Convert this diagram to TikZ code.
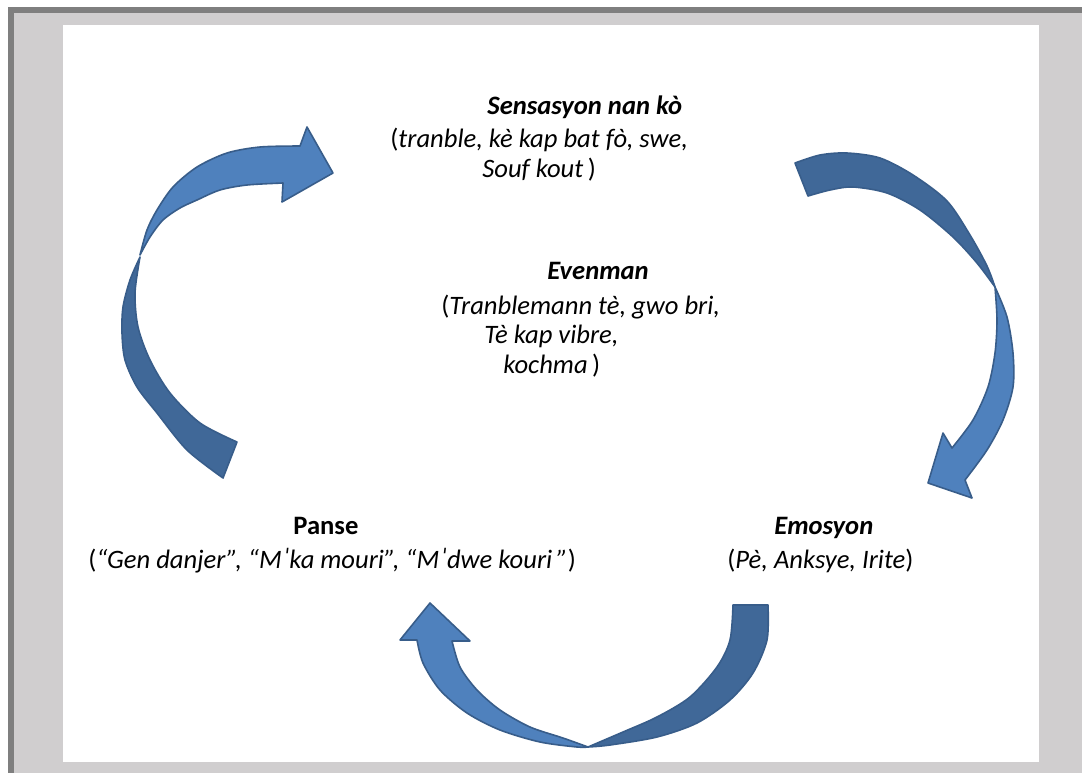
\documentclass[tikz,border=0pt]{standalone}
\usepackage{fontspec}
\setmainfont{Carlito}
\definecolor{rahmengrau}{HTML}{7F7F7F}
\definecolor{seitengrau}{HTML}{D0CECF}
\definecolor{pfeilblau}{HTML}{4F81BD}
\definecolor{pfeildunkelblau}{HTML}{406898}
\definecolor{pfeilrand}{HTML}{385D8A}

\tikzset{
  txt/.style={anchor=base west, inner sep=0pt, font=\fontsize{13.3pt}{16pt}\selectfont},
  pfeilhell/.style={fill=pfeilblau, draw=pfeilrand, line width=0.8pt, line join=round},
  pfeildunkel/.style={fill=pfeildunkelblau, draw=pfeilrand, line width=0.8pt, line join=round}
}

\begin{document}
\begin{tikzpicture}[x=0.5pt, y=-0.5pt]
  % Hintergrund und Seite
  \useasboundingbox (0,0) rectangle (1082,773);
  \fill[white] (0,0) rectangle (1082,773);
  \fill[rahmengrau] (8,7) rectangle (1082,773);
  \fill[seitengrau] (14,13) rectangle (1082,773);
  \fill[white] (63,25) rectangle (1039,762);

  % Pfeil links (nach oben)
  \filldraw[pfeildunkel] plot[smooth] coordinates {(223,478) (187,450) (157,413) (137,387) (125,360) (122,333) (123,307) (130,280) (140,257)}
    -- plot[smooth] coordinates {(140,257) (135,293) (138,327) (150,360) (170,393) (200,423) (237,442)} -- cycle;
  \filldraw[pfeilhell] plot[smooth] coordinates {(140,255) (147,230) (157,210) (173,187) (197,167) (227,153) (260,147) (300,146)}
    -- (307,127) -- (333,173) -- (282,202)
    -- plot[smooth] coordinates {(283,183) (247,185) (220,190) (197,200) (180,208) (163,220) (150,237) (140,255)} -- cycle;

  % Pfeil rechts (nach unten)
  \filldraw[pfeildunkel] plot[smooth] coordinates {(795,163) (820,155) (847,153) (880,158) (913,175) (947,201) (970,235) (987,266) (995,287)}
    -- plot[smooth] coordinates {(995,287) (977,263) (953,237) (920,210) (887,193) (853,187) (830,190) (808,196)} -- cycle;
  \filldraw[pfeilhell] plot[smooth] coordinates {(995,287) (1007,317) (1013,353) (1013,387) (1003,420) (987,450) (965,480)}
    -- (972,498) -- (928,483) -- (943,433)
    -- plot[smooth] coordinates {(952,448) (973,420) (988,387) (995,353) (997,320) (995,287)} -- cycle;

  % Pfeil unten (nach links)
  \filldraw[pfeildunkel] plot[smooth] coordinates {(768,605) (767,640) (753,673) (730,700) (697,723) (657,737) (610,745) (588,747)}
    -- plot[smooth] coordinates {(588,747) (623,732) (657,717) (690,697) (717,667) (730,640) (733,605)} -- cycle;
  \filldraw[pfeilhell] plot[smooth] coordinates {(588,747) (577,747) (540,742) (500,730) (467,713) (440,690) (423,663) (417,640)}
    -- (400,640) -- (430,603) -- (470,641)
    -- plot[smooth] coordinates {(452,641) (460,667) (477,690) (500,710) (530,727) (563,738) (588,747)} -- cycle;

  % Sensasyon
  \node[txt] (sens1) at (487,114) {\textbf{\textit{Sensasyon nan kò}}};
  \node[txt] (sens2) at (390,147) {(\textit{tranble, kè kap bat fò, swe,}};
  \node[txt] (sens3) at (482,177) {\textit{Souf kout}\,)};

  % Evenman
  \node[txt] (even1) at (547,279) {\textbf{\textit{Evenman}}};
  \node[txt] (even2) at (441,314) {(\textit{Tranblemann tè, gwo bri,}};
  \node[txt] (even3) at (484,343) {\textit{Tè kap vibre,}};
  \node[txt] (even4) at (503,373) {\textit{kochma}\,)};

  % Panse
  \node[txt] (panse1) at (293,534) {\textbf{Panse}};
  \node[txt] (panse2) at (88,568) {(\textit{“Gen danjer”, “Mˈka mouri”, “Mˈdwe kouri\,”})};

  % Emosyon
  \node[txt] (emo1) at (774,534) {\textbf{\textit{Emosyon}}};
  \node[txt] (emo2) at (727,568) {(\textit{Pè, Anksye, Irite})};
\end{tikzpicture}
\end{document}
